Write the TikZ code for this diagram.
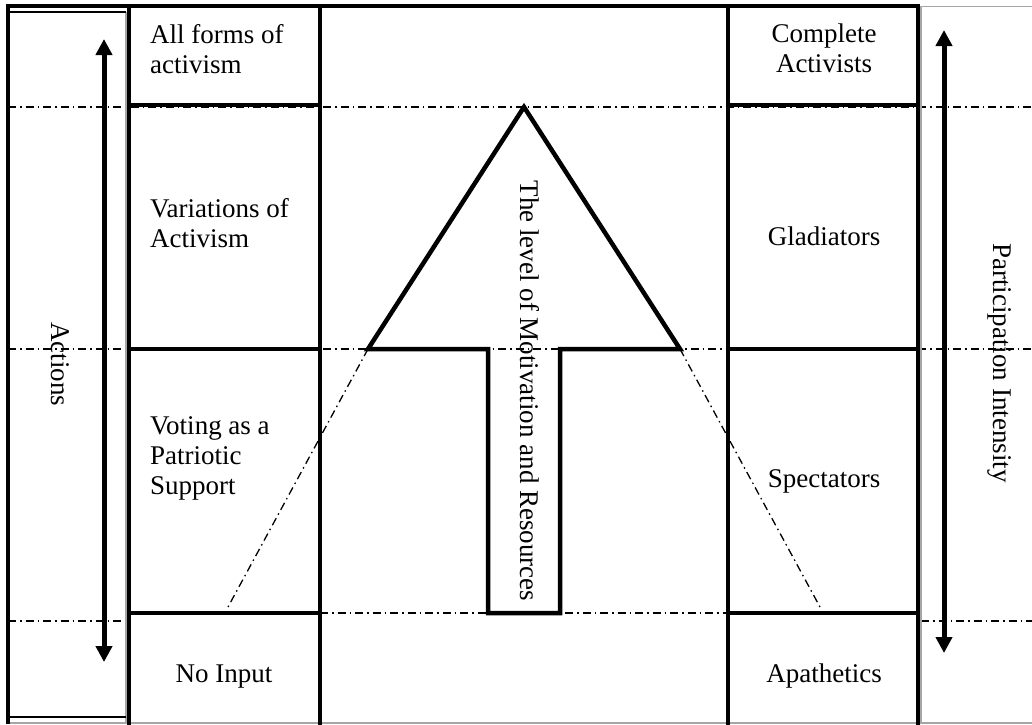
\documentclass[tikz,border=0pt]{standalone}
\usepackage{fontspec}
\setmainfont{Liberation Serif}
\usetikzlibrary{arrows.meta}
\begin{document}
\begin{tikzpicture}[x=1pt,y=-1pt,
  boxline/.style={line width=4.5pt},
  dd/.style={line width=1.3pt, dash pattern=on 8pt off 4pt on 1.5pt off 4pt},
  gl/.style={draw=gray!70, line width=1.2pt},
  dblarrow/.style={line width=5pt, {Triangle[length=16pt,width=16pt]}-{Triangle[length=16pt,width=16pt]}},
  txt/.style={font=\fontsize{27}{30}\selectfont, inner sep=0pt},
]
\clip (0,0) rectangle (1032,724);
\fill[white] (0,0) rectangle (1032,724);

% dash-dot guide lines
\draw[dd] (8,107) -- (1032,107);
\draw[dd] (8,349) -- (1032,349);
\draw[dd] (8,621) -- (126,621);
\draw[dd] (320,613) -- (728,613);
\draw[dd] (921,621) -- (1032,621);

% outer frame of side columns
\draw[gl] (126,12) -- (126,724);
\draw[gl] (921,6) -- (921,724);
\draw[gl] (921,6.5) -- (1032,6.5);
\draw[gl] (8,723) -- (1032,723);
\draw[line width=1.5pt] (8,12) -- (126,12);
\draw[line width=1.5pt] (8,717) -- (126,717);
\draw[boxline] (8,4) -- (8,724);
\draw[boxline] (6,6) -- (920,6);

% boxes
\foreach \a/\b in {6/105,105/349,349/613,613/740} {
  \draw[boxline] (129,\a) rectangle (320,\b);
  \draw[boxline] (728,\a) rectangle (918,\b);
}

% big arrow
\coordinate (apex) at (524,107);
\coordinate (bl) at (368,349);
\coordinate (br) at (680,349);
\draw[boxline, line join=miter] (apex) -- (br) -- (560,349) -- (560,613) -- (488,613) -- (488,349) -- (bl) -- cycle;
\coordinate (slL) at (228,607);
\coordinate (slR) at (820,607);
\draw[dd] (bl) -- (slL);
\draw[dd] (br) -- (slR);

% side arrows
\coordinate (aLt) at (104,39);
\coordinate (aLb) at (104,662);
\coordinate (aRt) at (944,30);
\coordinate (aRb) at (944,653);
\draw[dblarrow] (aLt) -- (aLb);
\draw[dblarrow] (aRt) -- (aRb);

% texts
\node[txt, anchor=base west, align=left] (t1) at (150,73) {All forms of\\activism};
\node[txt, anchor=base west, align=left] (t2) at (150,247) {Variations of\\Activism};
\node[txt, anchor=base west, align=left] (t3) at (150,494) {Voting as a\\Patriotic\\Support};
\node[txt, anchor=base] (t4) at (224,682) {No Input};
\node[txt, anchor=base, align=center] (r1) at (824,72) {Complete\\Activists};
\node[txt, anchor=base] (r2) at (824,245) {Gladiators};
\node[txt, anchor=base] (r3) at (824,487) {Spectators};
\node[txt, anchor=base] (r4) at (824,682) {Apathetics};
\node[txt, rotate=-90] (motiv) at (530,391) {The level of Motivation and Resources};
\node[txt, rotate=-90] (act) at (60,364) {Actions};
\node[txt, rotate=-90] (part) at (1000,363) {Participation Intensity};
\end{tikzpicture}
\end{document}
